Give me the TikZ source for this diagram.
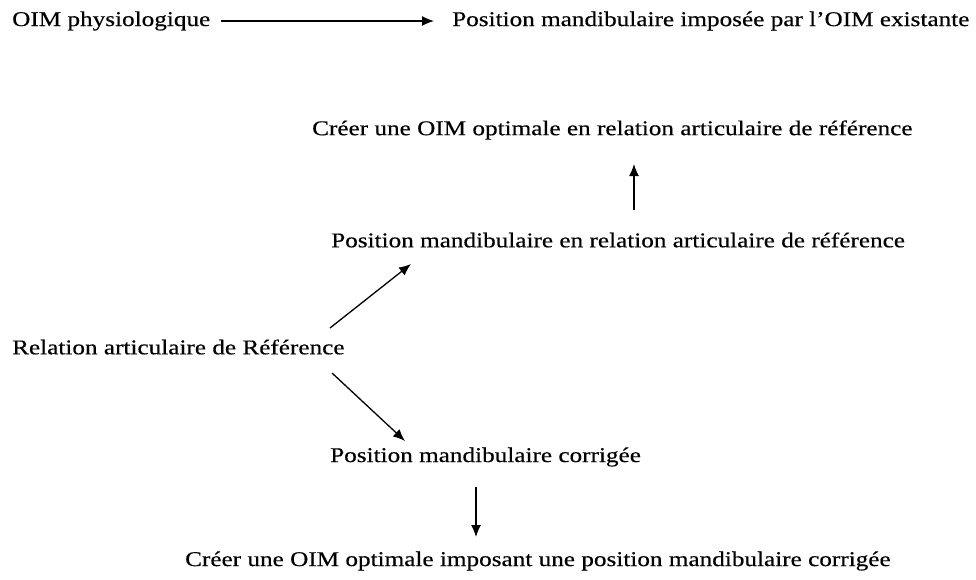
\documentclass[tikz,border=0pt]{standalone}
\usepackage{fontspec}
\setmainfont{Liberation Serif}[FakeStretch=1.2,FakeBold=0.4]
\usetikzlibrary{arrows.meta}
\begin{document}
\begin{tikzpicture}[x=1pt,y=-1pt,
  lbl/.style={anchor=west,inner sep=0pt,font=\fontsize{21}{25}\selectfont},
  arr/.style={line width=1.3pt,-{Latex[length=12pt,width=10pt]}}]
\useasboundingbox (0,0) rectangle (976,579);
\node[lbl] (phys) at (12,21) {OIM physiologique};
\node[lbl] (imp) at (452,21) {Position mandibulaire impos\'ee par l'OIM existante};
\node[lbl] (cre1) at (312,130) {Cr\'eer une OIM optimale en relation articulaire de r\'ef\'erence};
\node[lbl] (posr) at (331,240) {Position mandibulaire en relation articulaire de r\'ef\'erence};
\node[lbl] (rel) at (12,347) {Relation articulaire de R\'ef\'erence};
\node[lbl] (corr) at (330,457) {Position mandibulaire corrig\'ee};
\node[lbl] (cre2) at (185,561) {Cr\'eer une OIM optimale imposant une position mandibulaire corrig\'ee};
\coordinate (a1s) at (221,21); \coordinate (a1e) at (434,21);
\coordinate (a2s) at (634,210); \coordinate (a2e) at (634,164);
\coordinate (a3s) at (330,328); \coordinate (a3e) at (411,264);
\coordinate (a4s) at (332,373); \coordinate (a4e) at (405,441);
\coordinate (a5s) at (476,487); \coordinate (a5e) at (476,537);
\draw[arr] (a1s) -- (a1e);
\draw[arr] (a2s) -- (a2e);
\draw[arr] (a3s) -- (a3e);
\draw[arr] (a4s) -- (a4e);
\draw[arr] (a5s) -- (a5e);
\end{tikzpicture}
\end{document}
